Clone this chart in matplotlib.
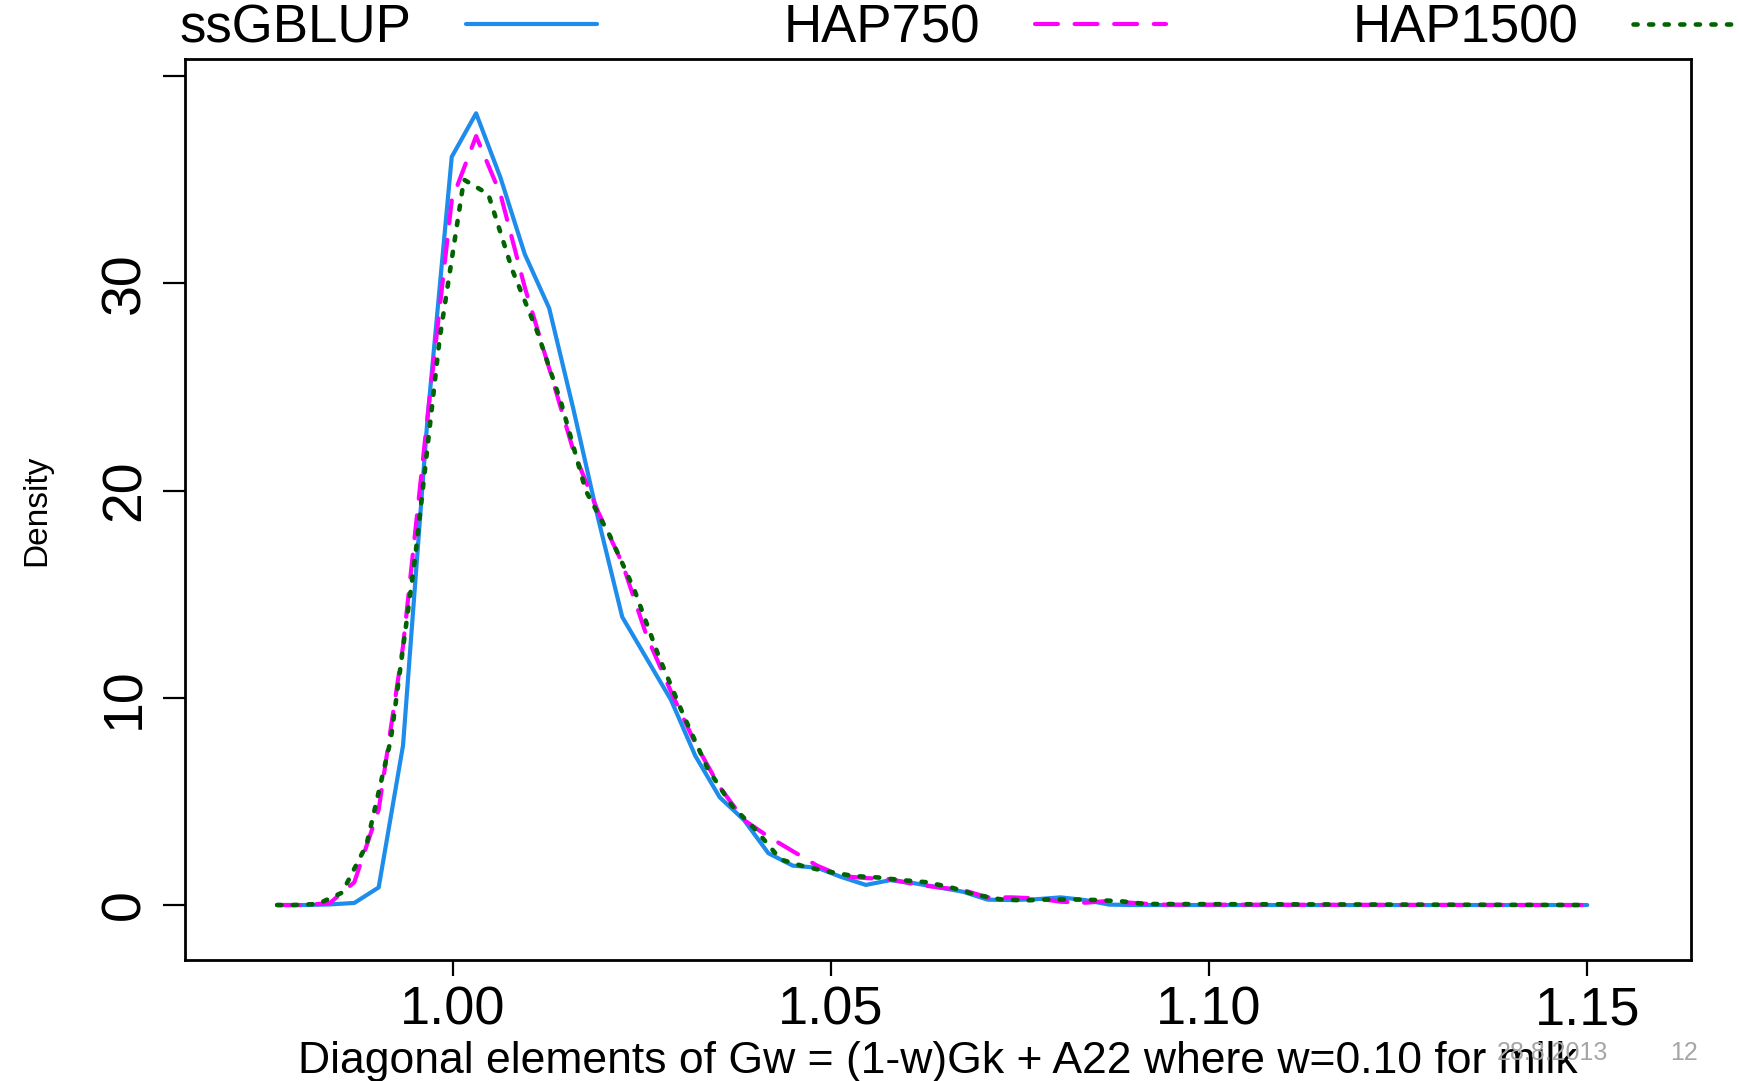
import matplotlib.pyplot as plt

plt.rcParams['font.family'] = ['Liberation Sans', 'DejaVu Sans']

# Datos (densidad de los elementos diagonales)
series_names = ['ssGBLUP', 'HAP750', 'HAP1500']

x_grid = [0.9768, 0.98056, 0.98378, 0.98700, 0.99022, 0.99344, 0.99666, 0.99988,
          1.0031, 1.00632, 1.00954, 1.01276, 1.01598, 1.0192, 1.02242, 1.02564,
          1.02886, 1.03208, 1.0353, 1.03852, 1.04174, 1.04496, 1.04818, 1.0514,
          1.05462, 1.05784, 1.06106, 1.06428, 1.0675, 1.07072, 1.07394, 1.07716,
          1.08038, 1.0836, 1.08682, 1.09004, 1.09326, 1.15]

ssgblup = [0, 0, 0.03, 0.1, 0.85, 7.7, 23.4, 36.1, 38.2, 35.1, 31.4, 28.8, 23.9,
           18.7, 13.9, 11.9, 9.9, 7.2, 5.2, 4.1, 2.5, 1.9, 1.8, 1.35, 0.97, 1.2,
           1.05, 0.85, 0.64, 0.26, 0.24, 0.28, 0.37, 0.24, 0.02, 0, 0, 0]

hap750 = [0, 0, 0.1, 1.1, 4.6, 12.5, 23.5, 34.0, 37.1, 34.3, 29.8, 25.9, 21.9,
          19.0, 16.5, 13.0, 10.3, 7.8, 5.7, 4.1, 3.3, 2.6, 1.9, 1.4, 1.3, 1.25,
          1.0, 0.85, 0.72, 0.37, 0.37, 0.32, 0.16, 0.11, 0.2, 0.1, 0.02, 0]

x_hap1500 = [0.9768, 0.97895, 0.98217, 0.98539, 0.98861, 0.99183, 0.99505, 0.99827,
             1.00149, 1.00471, 1.00793, 1.01115, 1.01437, 1.01759, 1.02081, 1.02403,
             1.02725, 1.03047, 1.03369, 1.03691, 1.04013, 1.04335, 1.04657, 1.04979,
             1.05301, 1.05623, 1.05945, 1.06267, 1.06589, 1.06911, 1.07233, 1.07555,
             1.07877, 1.08199, 1.08521, 1.08843, 1.09165, 1.15]

hap1500 = [0, 0, 0.05, 0.6, 2.9, 8.0, 16.8, 27.3, 35.0, 34.3, 30.6, 27.7, 24.2,
           20.0, 17.8, 15.2, 12.0, 9.2, 6.6, 4.8, 3.6, 2.2, 1.85, 1.6, 1.4, 1.33,
           1.2, 1.1, 0.85, 0.5, 0.28, 0.22, 0.27, 0.27, 0.24, 0.18, 0.05, 0]

x_ticks = [1.00, 1.05, 1.10, 1.15]
x_tick_labels = ['1.00', '1.05', '1.10', '1.15']
y_ticks = [0, 10, 20, 30, 40]
y_tick_labels = ['0', '10', '20', '30', '']

# Crear la figura
fig = plt.figure(figsize=(17.4, 10.81), dpi=100)
ax = fig.add_axes([0.1063, 0.1119, 0.8655, 0.8335])

l1, = ax.plot(x_grid, ssgblup, color='#1E8CEB', linewidth=3,
              solid_capstyle='round', solid_joinstyle='round')
l2, = ax.plot(x_grid, hap750, color='#FF00FF', linewidth=3,
              linestyle=(0, (5.5, 4.0)), dash_capstyle='round')
l3, = ax.plot(x_hap1500, hap1500, color='#006400', linewidth=3.3,
              linestyle=(0, (0.9, 2.5)), dash_capstyle='round')

ax.set_xlim(0.96461, 1.16371)
ax.set_ylim(-2.654, 40.82)

ax.set_xticks(x_ticks)
ax.set_xticklabels(x_tick_labels)
ax.set_yticks(y_ticks)
ax.set_yticklabels(y_tick_labels, rotation=90, va='center')

ax.tick_params(axis='x', length=11.5, width=1.6, pad=7, labelsize=39)
ax.tick_params(axis='y', length=16, width=1.6, pad=8, labelsize=40)
for s in ax.spines.values():
    s.set_linewidth(2)

ax.set_xlabel('Diagonal elements of Gw = (1-w)Gk + A22 where w=0.10 for milk',
              fontsize=32, va='baseline')
ax.xaxis.set_label_coords(0.5, -0.1255)
ax.set_ylabel('Density', fontsize=24, va='baseline')
ax.yaxis.set_label_coords(-0.093, 0.4994)

# Leyenda horizontal arriba
fig.legend([l1, l2, l3], series_names, loc='center left',
           bbox_to_anchor=(0.1029, 0.974), ncol=3, markerfirst=False,
           frameon=False, fontsize=38, handlelength=2.48, handletextpad=1.04,
           columnspacing=3.54, borderpad=0, borderaxespad=0)

# Pie de diapositiva
fig.text(0.892, 0.0195, '28.8.2013', ha='center', va='baseline',
         color='#a6a6a6', fontsize=18)
fig.text(0.968, 0.0195, '12', ha='center', va='baseline',
         color='#a6a6a6', fontsize=18)

fig.savefig('out.png', dpi=100)
plt.close(fig)
